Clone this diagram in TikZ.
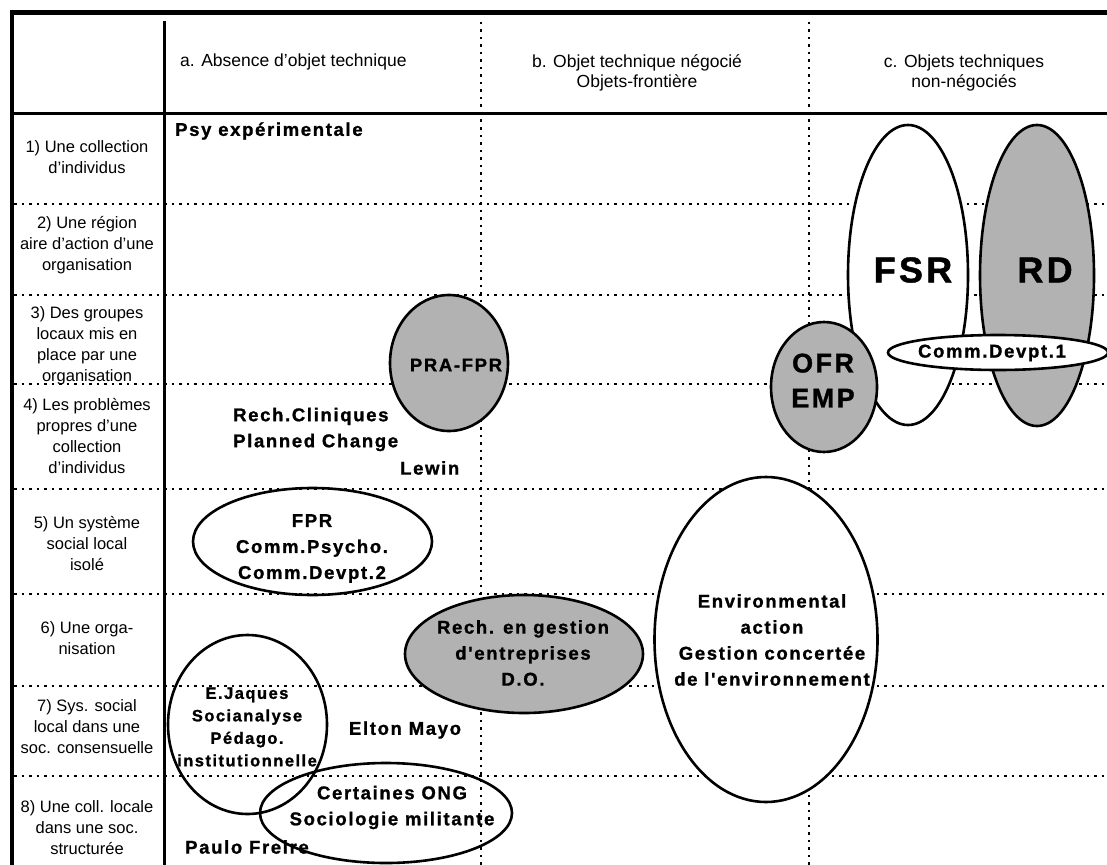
\documentclass[tikz,border=0pt]{standalone}
\usepackage{fontspec}
\setmainfont{Liberation Sans}
\newfontfamily\labfont[LetterSpace=9,FakeBold=1.2]{Liberation Sans Bold}
\usetikzlibrary{shapes.geometric}
\begin{document}
\begin{tikzpicture}[x=1pt,y=-1pt,
  gridline/.style={line width=1.3pt, dash pattern=on 2.5pt off 5pt},
  ell/.style={draw, line width=2.6pt},
  shaded/.style={ell, fill=black!30},
  whitefill/.style={ell, fill=white},
  lab/.style={font=\labfont\fontsize{18.5}{26}\selectfont, align=center, inner sep=0pt},
  smalllab/.style={font=\labfont\fontsize{16.5}{22.5}\selectfont, align=center, inner sep=0pt},
  biglab/.style={font=\labfont\fontsize{36}{40}\selectfont, inner sep=0pt},
  midlab/.style={font=\labfont\fontsize{27}{35}\selectfont, align=center, inner sep=0pt},
  rowlab/.style={font=\fontsize{16.5}{21}\selectfont, align=center, inner sep=0pt},
  headlab/.style={font=\fontsize{17.5}{20}\selectfont, align=center, inner sep=0pt}]
\useasboundingbox (0,0) rectangle (1107,864);
\clip (0,0) rectangle (1107,864);
\fill[white] (0,0) rectangle (1107,864);

% grid
\foreach \yy in {204,295,384,489,594,686,776}
  \draw[gridline] (14,\yy) -- (1110,\yy);
\foreach \xx in {481,809}
  \draw[gridline] (\xx,22) -- (\xx,870);
\draw[line width=2.5pt] (12,113.5) -- (1110,113.5);
\draw[line width=2.5pt] (164.5,21) -- (164.5,870);
\draw[line width=4pt] (12,10) -- (12,870);
\draw[line width=5pt] (10,12.5) -- (1110,12.5);

% headers
\node[headlab, anchor=west] (ha) at (180,62) {a. Absence d'objet technique};
\node[headlab] (hb) at (637,73) {b. Objet technique négocié\\Objets-frontière};
\node[headlab] (hc) at (964,73) {c. Objets techniques\\non-négociés};

% row labels
\node[rowlab] (r1) at (87,157) {1) Une collection\\d'individus};
\node[rowlab] (r2) at (87,245) {2) Une région\\aire d'action d'une\\organisation};
\node[rowlab] (r3) at (87,346) {3) Des groupes\\locaux mis en\\place par une\\organisation};
\node[rowlab] (r4) at (87,436) {4) Les problèmes\\propres d'une\\collection\\d'individus};
\node[rowlab] (r5) at (87,543) {5) Un système\\social local\\isolé};
\node[rowlab] (r6) at (87,638) {6) Une orga-\\nisation};
\node[rowlab] (r7) at (87,727) {7) Sys. social\\local dans une\\soc. consensuelle};
\node[rowlab] (r8) at (87,828) {8) Une coll. locale\\dans une soc.\\structurée};

% ellipses
\path[whitefill] (908,275) ellipse [x radius=60pt, y radius=150pt];
\path[shaded] (1037,275.5) ellipse [x radius=57pt, y radius=150.5pt];
\path[shaded] (824,387) ellipse [x radius=53pt, y radius=65pt];
\path[whitefill] (998,352.5) ellipse [x radius=110pt, y radius=17.5pt];
\path[shaded] (449,363) ellipse [x radius=59pt, y radius=68pt];
\path[ell] (312.5,541.5) ellipse [x radius=119.5pt, y radius=53.5pt];
\path[shaded] (524,654) ellipse [x radius=119pt, y radius=59pt];
\path[whitefill] (766,639.5) ellipse [x radius=111.5pt, y radius=162.5pt];
\path[ell] (247.5,724.5) ellipse [x radius=79.5pt, y radius=89.5pt];
\path[ell] (386,813) ellipse [x radius=126pt, y radius=50pt];

% labels
\node[lab, anchor=west] (psy) at (175,131) {Psy expérimentale};
\node[lab, anchor=west, align=left] (rech) at (233,429.5) {Rech.Cliniques\\Planned Change};
\node[lab, anchor=west] (lewin) at (400,468) {Lewin};
\node[biglab] (fsr) at (913,270) {FSR};
\node[biglab] (rd) at (1045,270) {RD};
\node[midlab] (ofr) at (823,380.5) {OFR\\EMP};
\node[lab] (cd1) at (992,353) {Comm.Devpt.1};
\node[lab] (pra) at (456,365) {PRA-FPR};
\node[lab] (fpr) at (312,548.5) {FPR\\Comm.Psycho.\\Comm.Devpt.2};
\node[lab] (rgest) at (523,653) {Rech. en gestion\\d'entreprises\\D.O.};
\node[lab] (env) at (772,640) {Environmental\\action\\Gestion concertée\\de l'environnement};
\node[smalllab] (ej) at (247,727) {E.Jaques\\Socianalyse\\Pédago.\\institutionnelle};
\node[lab] (elton) at (405,730) {Elton Mayo};
\node[lab] (ong) at (392,807.5) {Certaines ONG\\Sociologie militante};
\node[lab, anchor=west] (paulo) at (185,847) {Paulo Freire};
\end{tikzpicture}
\end{document}
